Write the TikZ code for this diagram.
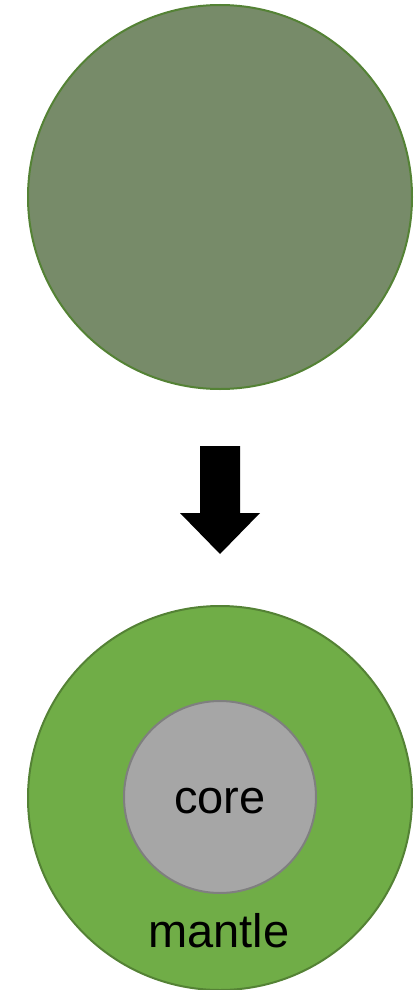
\documentclass[tikz,border=0pt]{standalone}
\usepackage{fontspec}
\setmainfont{Liberation Sans}
\definecolor{topfill}{HTML}{778B69}
\definecolor{greenline}{HTML}{548235}
\definecolor{mantlefill}{HTML}{70AD47}
\definecolor{corefill}{HTML}{A6A6A6}
\definecolor{coreline}{HTML}{7F7F7F}
\begin{document}
\begin{tikzpicture}[x=1pt,y=-1pt,
  ball/.style={circle,draw=greenline,line width=2pt,minimum size=384pt,inner sep=0pt},
  corec/.style={circle,draw=coreline,fill=corefill,line width=2pt,minimum size=192pt,inner sep=0pt},
  lbl/.style={font=\fontsize{47}{50}\selectfont,inner sep=0pt,anchor=base}]
\useasboundingbox (0,0) rectangle (415,990);
\node[ball,fill=topfill] (top) at (220,197) {};
\node[ball,fill=mantlefill] (bottom) at (220,798) {};
\node[corec] (core) at (220,797) {};
\node[lbl] (coretext) at (220,813) {core};
\node[lbl] (mantletext) at (219,947) {mantle};
\fill[black] (200,446) -- (240,446) -- (240,513) -- (260,513) -- (220,554) -- (180,513) -- (200,513) -- cycle;
\end{tikzpicture}
\end{document}
